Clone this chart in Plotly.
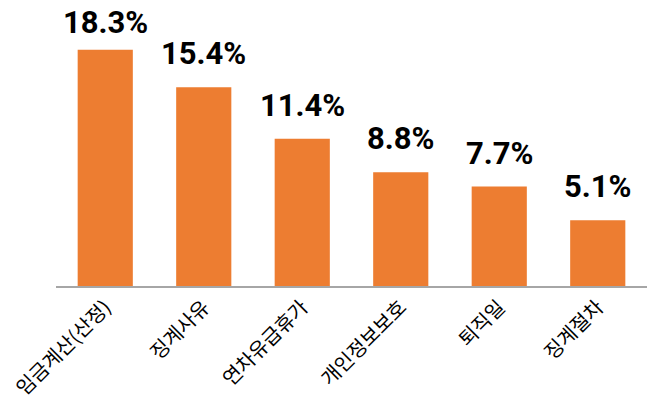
import plotly.graph_objects as go

categories = ["임금계산(산정)", "징계사유", "연차유급휴가", "개인정보보호", "퇴직일", "징계절차"]
values = [18.3, 15.4, 11.4, 8.8, 7.7, 5.1]
labels = [f"{v:.1f}%" for v in values]

YMAX = 20.6
LABEL_CAP = 17.85  # keep the top label inside the frame, as in the reference

fig = go.Figure(go.Bar(
    x=categories, y=values,
    marker=dict(color="#ED7D31", line=dict(width=0)),
    cliponaxis=False, width=0.56,
))
for c, v, t in zip(categories, values, labels):
    fig.add_annotation(x=c, y=min(v, LABEL_CAP), text=t, showarrow=False,
                       yanchor="bottom", yshift=13,
                       font=dict(family="Roboto", size=31, color="#000000", weight="bold"))
fig.update_layout(
    width=650, height=403,
    margin=dict(l=56, r=3, t=20, b=117),
    paper_bgcolor="white", plot_bgcolor="white",
    showlegend=False,
    xaxis=dict(tickangle=-45, showline=True, linecolor="#A6A6A6", linewidth=1.5,
               tickfont=dict(family="Noto Sans CJK KR", size=20, color="#000000"),
               ticks="", showgrid=False),
    yaxis=dict(range=[0, YMAX], visible=False, showgrid=False),
)
fig.write_html("out.html")
